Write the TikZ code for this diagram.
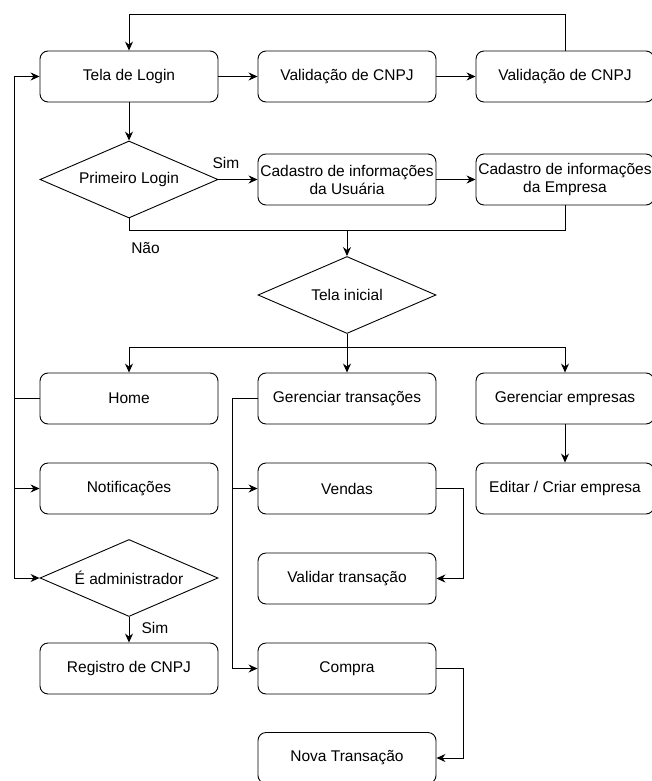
\documentclass[tikz,border=0pt]{standalone}
\usepackage{fontspec}
\setmainfont{Liberation Sans}
\usetikzlibrary{shapes.geometric,arrows.meta}
\begin{document}
\begin{tikzpicture}[x=1pt,y=-1pt,
  box/.style={draw, rounded corners=8pt, minimum width=178pt, minimum height=51pt, inner sep=0pt, align=center, line width=0.9pt, font=\fontsize{15.5}{18}\selectfont},
  dia/.style={draw, diamond, aspect=2.31, minimum width=178pt, minimum height=77pt, inner sep=0pt, line width=0.9pt, font=\fontsize{15.5}{18}\selectfont},
  conn/.style={line width=0.9pt},
  arr/.style={line width=0.9pt, -{Stealth[length=9pt,width=8pt,inset=3pt]}},
  lbl/.style={font=\fontsize{15.5}{18}\selectfont, inner sep=0pt}
]
\useasboundingbox[fill=white] (0,0) rectangle (651,781);
% row 1
\node[box] (login) at (129,76.5) {Tela de Login};
\node[box] (val1) at (347,76.5) {Validação de CNPJ};
\node[box] (val2) at (565,76.5) {Validação de CNPJ};
% row 2
\node[dia] (pl) at (129,179.5) {Primeiro Login};
\node[box] (cu) at (347,179.5) {Cadastro de informações\\da Usuária};
\node[box] (ce) at (565,179.5) {Cadastro de informações\\da Empresa};
% tela inicial
\node[dia] (ti) at (347,295) {Tela inicial};
% row 4
\node[box] (home) at (129,398.5) {Home};
\node[box] (gt) at (347,398.5) {Gerenciar transações};
\node[box] (ge) at (565,398.5) {Gerenciar empresas};
% row 5
\node[box] (notif) at (129,488.5) {Notificações};
\node[box] (vendas) at (347,488.5) {Vendas};
\node[box] (ec) at (565,488.5) {Editar / Criar empresa};
% row 6
\node[dia] (adm) at (129,578) {É administrador};
\node[box] (valt) at (347,578.5) {Validar transação};
% row 7
\node[box] (reg) at (129,668.5) {Registro de CNPJ};
\node[box] (compra) at (347,668.5) {Compra};
% row 8
\node[box] (nova) at (347,758) {Nova Transação};

% helper coordinates
\coordinate (topy) at (0,14);
\coordinate (j1) at (347,230);
\coordinate (j2) at (347,347);
\coordinate (lx) at (14.5,0);
\coordinate (gx) at (232,0);
\coordinate (rx) at (463,0);

% connectors
\draw[arr] (val2.north) -- (val2.north |- topy) -| (login.north);
\draw[arr] (login) -- (val1);
\draw[arr] (val1) -- (val2);
\draw[arr] (login.south) -- (pl.north);
\draw[arr] (pl.east) -- (cu.west);
\node[lbl] (sim1) at (226,163) {Sim};
\draw[arr] (cu.east) -- (ce.west);
\draw[conn] (pl.south) |- (ce.south |- j1) -- (ce.south);
\draw[arr] (j1) -- (ti.north);
\node[lbl] (nao) at (145.5,248) {Não};
\draw[arr] (ti.south) -- (gt.north);
\draw[arr] (j2) -| (home.north);
\draw[arr] (j2) -| (ge.north);
\draw[arr] (home.west) -- (home.west -| lx) |- (login.west);
\draw[arr] (home.west -| lx) |- (notif.west);
\draw[arr] (home.west -| lx) |- (adm.west);
\draw[arr] (gt.west) -- (gt.west -| gx) |- (vendas.west);
\draw[arr] (gt.west -| gx) |- (compra.west);
\draw[arr] (vendas.east) -- (vendas.east -| rx) |- (valt.east);
\draw[arr] (compra.east) -- (compra.east -| rx) |- (nova.east);
\draw[arr] (ge.south) -- (ec.north);
\draw[arr] (adm.south) -- (reg.north);
\node[lbl] (sim2) at (155,628) {Sim};
\end{tikzpicture}
\end{document}
